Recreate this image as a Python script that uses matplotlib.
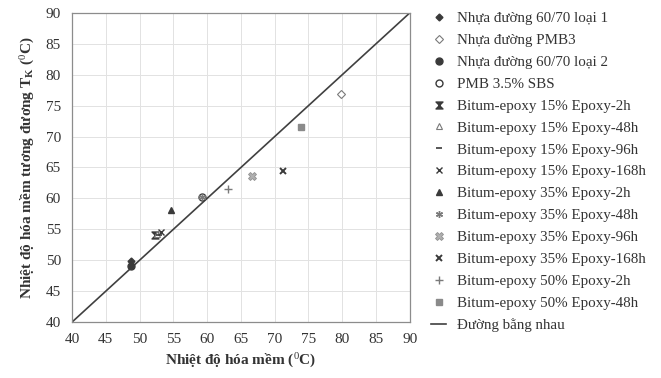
import matplotlib
matplotlib.use("Agg")
import matplotlib.pyplot as plt
from matplotlib.path import Path
import numpy as np

plt.rcParams['font.family'] = ['Liberation Serif', 'DejaVu Serif']
plt.rcParams['mathtext.fontset'] = 'custom'
plt.rcParams['mathtext.rm'] = 'Liberation Serif'
plt.rcParams['mathtext.it'] = 'Liberation Serif:italic'
plt.rcParams['mathtext.bf'] = 'Liberation Serif:bold'

series_names = [
    "Nhựa đường 60/70 loại 1",
    "Nhựa đường PMB3",
    "Nhựa đường 60/70 loại 2",
    "PMB 3.5% SBS",
    "Bitum-epoxy 15% Epoxy-2h",
    "Bitum-epoxy 15% Epoxy-48h",
    "Bitum-epoxy 15% Epoxy-96h",
    "Bitum-epoxy 15% Epoxy-168h",
    "Bitum-epoxy 35% Epoxy-2h",
    "Bitum-epoxy 35% Epoxy-48h",
    "Bitum-epoxy 35% Epoxy-96h",
    "Bitum-epoxy 35% Epoxy-168h",
    "Bitum-epoxy 50% Epoxy-2h",
    "Bitum-epoxy 50% Epoxy-48h",
]
x_soft = [48.8, 79.8, 48.7, 59.3, 52.3, 52.6, 52.8, 53.2, 54.6, 59.3, 66.6, 71.2, 63.1, 73.9]
y_equiv = [49.8, 76.9, 49.1, 60.3, 54.0, 54.2, 54.1, 54.5, 58.1, 60.3, 63.6, 64.4, 61.5, 71.6]
equal_line = [40, 90]
line_label = "Đường bằng nhau"
ticks = [40, 45, 50, 55, 60, 65, 70, 75, 80, 85, 90]

dark = '#3a3a3a'
mid = '#7a7a7a'
hourglass = Path([(-1, 1), (1, 1), (-1, -1), (1, -1), (-1, 1)],
                 [Path.MOVETO, Path.LINETO, Path.LINETO, Path.LINETO, Path.CLOSEPOLY])
styles = [
    dict(marker='D', ms=3.5, mfc=dark, mec=dark),
    dict(marker='D', ms=4, mfc='white', mec=mid, mew=0.8),
    dict(marker='o', ms=5, mfc=dark, mec=dark),
    dict(marker='o', ms=5, mfc='none', mec=dark, mew=1.0),
    dict(marker=hourglass, ms=5, mfc=dark, mec=dark),
    dict(marker='^', ms=4.5, mfc='white', mec=mid, mew=0.8),
    dict(marker='_', ms=5, mfc=dark, mec=dark, mew=1.2),
    dict(marker='x', ms=4.5, mfc=dark, mec=dark, mew=1.0),
    dict(marker='^', ms=5, mfc=dark, mec=dark),
    dict(marker=(6, 2, 0), ms=5, mfc=dark, mec=mid, mew=1.0),
    dict(marker='X', ms=6, mfc='#b0b0b0', mec='#909090', mew=0.6),
    dict(marker='x', ms=5, mfc=dark, mec=dark, mew=1.4),
    dict(marker='+', ms=6, mfc=mid, mec=mid, mew=1.0),
    dict(marker='s', ms=5, mfc='#8a8a8a', mec='#8a8a8a'),
]

fig = plt.figure(figsize=(6.61, 3.78), dpi=100)
ax = fig.add_axes([0.109, 0.148, 0.511, 0.818])

ax.plot(equal_line, equal_line, color='#404040', lw=1.2, label=line_label, zorder=2)
handles = []
for name, xv, yv, st in zip(series_names, x_soft, y_equiv, styles):
    h, = ax.plot([xv], [yv], linestyle='none', label=name, zorder=3, **st)
    handles.append(h)
line_handle = ax.get_lines()[0]

ax.set_xlim(40, 90)
ax.set_ylim(40, 90)
ax.set_xticks(ticks)
ax.set_yticks(ticks)
ax.grid(True, color='#e2e2e2', lw=0.7)
ax.set_axisbelow(True)
for s in ax.spines.values():
    s.set_color('#8c8c8c')
    s.set_linewidth(0.9)
ax.tick_params(length=0, labelsize=11, colors='#333333', pad=8)

ax.set_xlabel("Nhiệt độ hóa mềm ($^0$C)", fontsize=11, fontweight='bold', color='#333333', labelpad=4)
ax.set_ylabel("Nhiệt độ hóa mềm tương đương T$_\\mathbf{K}$ ($^0$C)", fontsize=11, fontweight='bold',
              color='#333333', labelpad=6)

leg = fig.legend(handles + [line_handle], series_names + [line_label],
                 loc='upper left', bbox_to_anchor=(0.643, 0.985), frameon=False,
                 fontsize=10.8, labelspacing=0.56, handlelength=1.0, handletextpad=0.7,
                 borderaxespad=0)
for t in leg.get_texts():
    t.set_color('#333333')

fig.savefig('out.png', dpi=100, facecolor='white')
